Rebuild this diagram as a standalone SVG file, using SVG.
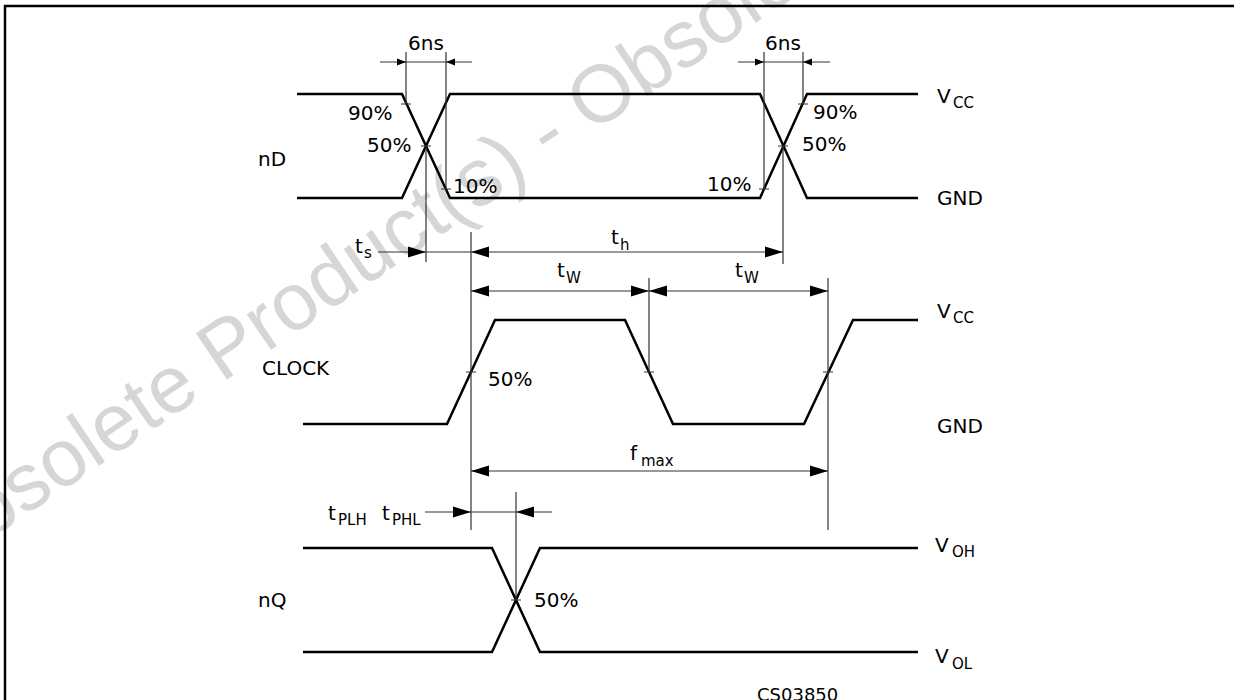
<svg xmlns="http://www.w3.org/2000/svg" xmlns:xlink="http://www.w3.org/1999/xlink" width="1234" height="700" viewBox="0 0 1234 700">
<style>
text{font-family:"DejaVu Sans","Liberation Sans",Arial,sans-serif;fill:#000}
.t{font-size:20px}
.s{font-size:15px}
.sig{fill:none;stroke:#000;stroke-width:2.5;stroke-linejoin:miter}
.dim{fill:none;stroke:#333;stroke-width:1.2}
.wm{font-family:"Liberation Sans",Arial,sans-serif;font-size:81px;fill:#d6d6d6}
</style>
<defs>
<path id="aR" d="M0,0 L-18,-5.5 L-18,5.5 Z" fill="#000"/>
<path id="aL" d="M0,0 L18,-5.5 L18,5.5 Z" fill="#000"/>
<path id="sR" d="M0,0 L-9,-3.5 L-9,3.5 Z" fill="#000"/>
<path id="sL" d="M0,0 L9,-3.5 L9,3.5 Z" fill="#000"/>
</defs>
<rect width="1234" height="700" fill="#fff"/>
<text class="wm" transform="translate(-66,577) rotate(-34)">Obsolete Product(s) - Obsolete Product(s)</text>
<path d="M5,700 V6 H1234" fill="none" stroke="#000" stroke-width="2.5"/>

<g id="nD">
<path class="sig" d="M297,94 H402 L450,198 H760 L807,94 H918"/>
<path class="sig" d="M297,198 H402 L450,94 H760 L807,198 H918"/>
<text class="t" x="258" y="166">nD</text>
<text class="t" x="937" y="103">V<tspan class="s" x="953" dy="5">CC</tspan></text>
<text class="t" x="937" y="205">GND</text>
<text class="t" x="348" y="120">90%</text>
<text class="t" x="367" y="152">50%</text>
<text class="t" x="453" y="193">10%</text>
<text class="t" x="707" y="191">10%</text>
<text class="t" x="813" y="119">90%</text>
<text class="t" x="802" y="151">50%</text>
<text class="t" x="426" y="50" text-anchor="middle">6ns</text>
<text class="t" x="783" y="50" text-anchor="middle">6ns</text>
</g>

<g id="CLOCK">
<path class="sig" d="M303,424 H447 L495,320 H625 L673,424 H804 L853,320 H918"/>
<text class="t" x="262" y="375">CLOCK</text>
<text class="t" x="488" y="386">50%</text>
<text class="t" x="937" y="318">V<tspan class="s" x="953" dy="5">CC</tspan></text>
<text class="t" x="937" y="433">GND</text>
</g>

<g id="nQ">
<path class="sig" d="M303,548 H492 L540,652 H918"/>
<path class="sig" d="M303,652 H492 L540,548 H918"/>
<text class="t" x="258" y="607">nQ</text>
<text class="t" x="534" y="607">50%</text>
<text class="t" x="935" y="552">V<tspan class="s" x="952" dy="5">OH</tspan></text>
<text class="t" x="935" y="663">V<tspan class="s" x="952" dy="6">OL</tspan></text>
</g>

<g id="connectors">
<path class="dim" d="M380,62 H472 M406,52 V104 M446,52 V189 M401,104 H411 M441,189 H451 M421,146 H431"/>
<use xlink:href="#sR" x="406" y="62"/>
<use xlink:href="#sL" x="446" y="62"/>
<path class="dim" d="M738,62 H830 M764,52 V189 M803,52 V104 M759,189 H769 M798,104 H808 M778,146 H788"/>
<use xlink:href="#sR" x="764" y="62"/>
<use xlink:href="#sL" x="803" y="62"/>
<path class="dim" d="M426,146 V262 M783,146 V264"/>
<path class="dim" d="M378,252 H783"/>
<use xlink:href="#aR" x="426" y="252"/>
<use xlink:href="#aL" x="471" y="252"/>
<use xlink:href="#aR" x="783" y="252"/>
<path class="dim" d="M471,232 V530 M649,278 V372 M828,278 V530 M466,372 H476 M644,372 H654 M823,372 H833"/>
<path class="dim" d="M471,291 H828"/>
<use xlink:href="#aL" x="471" y="291"/>
<use xlink:href="#aR" x="649" y="291"/>
<use xlink:href="#aL" x="649" y="291"/>
<use xlink:href="#aR" x="828" y="291"/>
<path class="dim" d="M471,471 H828"/>
<use xlink:href="#aL" x="471" y="471"/>
<use xlink:href="#aR" x="828" y="471"/>
<path class="dim" d="M425,512 H552 M516,492 V600 M511,600 H521"/>
<use xlink:href="#aR" x="471" y="512"/>
<use xlink:href="#aL" x="516" y="512"/>
</g>

<g id="labels">
<text class="t" x="355" y="253">t<tspan class="s" x="364" dy="5">s</tspan></text>
<text class="t" x="611" y="244">t<tspan class="s" x="620" dy="6">h</tspan></text>
<text class="t" x="557" y="277">t<tspan class="s" x="566" dy="6">W</tspan></text>
<text class="t" x="735" y="277">t<tspan class="s" x="744" dy="6">W</tspan></text>
<text class="t" x="630" y="460">f<tspan class="s" x="641" dy="6">max</tspan></text>
<text class="t" x="328" y="520">t<tspan class="s" x="338" dy="5">PLH</tspan><tspan x="382" dy="-5">t</tspan><tspan class="s" x="392" dy="5">PHL</tspan></text>
<text x="757" y="701" style="font-size:18px">CS03850</text>
</g>
</svg>
